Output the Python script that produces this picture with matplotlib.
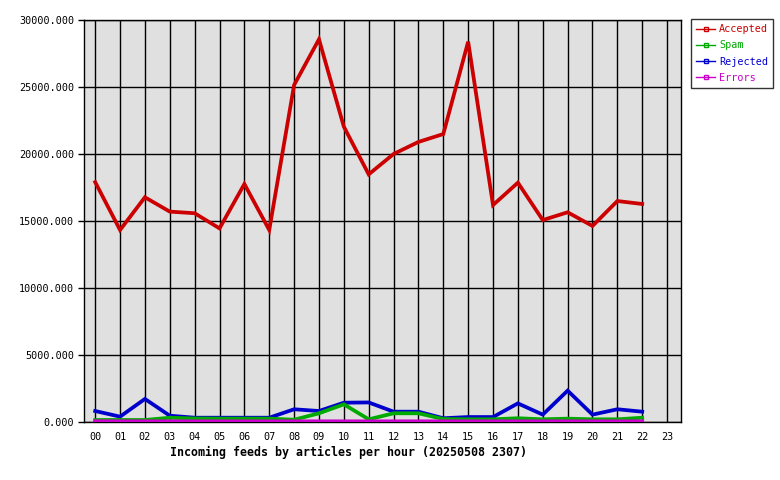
import matplotlib
matplotlib.use('Agg')
import matplotlib.pyplot as plt
from matplotlib.lines import Line2D

hours = ['%02d' % h for h in range(24)]

accepted = [17900, 14330, 16770, 15700, 15580, 14450, 17760, 14330, 25150, 28560,
            22040, 18480, 20000, 20900, 21490, 28380, 16190, 17860, 15070, 15650,
            14630, 16490, 16270]
spam = [150, 150, 150, 320, 260, 250, 250, 250, 170, 650,
        1320, 200, 650, 650, 220, 200, 200, 280, 200, 250,
        200, 200, 320]
rejected = [820, 400, 1720, 470, 320, 320, 320, 320, 950, 820,
            1440, 1460, 770, 770, 280, 370, 370, 1390, 550, 2340,
            550, 950, 770]
errors = [60, 50, 50, 50, 50, 50, 50, 50, 50, 50,
          50, 50, 50, 50, 50, 50, 50, 50, 50, 50,
          50, 50, 50]

series = [('Accepted', accepted, '#cc0000'),
          ('Spam', spam, '#00aa00'),
          ('Rejected', rejected, '#0000cc'),
          ('Errors', errors, '#cc00cc')]

yticks = [0, 5000, 10000, 15000, 20000, 25000, 30000]

plt.rcParams['font.family'] = 'DejaVu Sans Mono'

fig = plt.figure(figsize=(7.8, 4.8), dpi=100)
ax = fig.add_axes([84 / 780, 1 - 422 / 480, (681 - 84) / 780, (422 - 20) / 480])
ax.set_facecolor('#e0e0e0')

x = list(range(len(accepted)))
# small series first, Accepted last so it sits on top
for name, vals, color in [series[2], series[1], series[3], series[0]]:
    ax.plot(x, vals, color=color, linewidth=2.7, solid_joinstyle='miter', zorder=3)

ax.set_xlim(-0.45, 23.56)
ax.set_ylim(0, 30000)
ax.set_xticks(range(24))
ax.set_xticklabels(hours, fontsize=7.3)
ax.set_yticks(yticks)
ax.set_yticklabels(['%.3f' % v for v in yticks], fontsize=7.3)
ax.grid(True, color='black', linewidth=1)
ax.set_axisbelow(True)
ax.tick_params(axis='x', length=0, pad=7)
ax.tick_params(axis='y', length=4, width=1, pad=3)
for sp in ax.spines.values():
    sp.set_color('black')
    sp.set_linewidth(1)

fig.text(348.5 / 780, 1 - 452 / 480,
         'Incoming feeds by articles per hour (20250508 2307)',
         fontsize=8.4, fontweight='bold', ha='center', va='center')

handles = [Line2D([0], [0], color=c, linewidth=1, marker='s', markersize=3,
                  markerfacecolor='none', markeredgecolor=c)
           for _, _, c in series]
leg = fig.legend(handles, [s[0] for s in series], loc='upper left',
                 bbox_to_anchor=(691 / 780, 1 - 19 / 480), fontsize=7.3,
                 frameon=True, fancybox=False, edgecolor='black',
                 handlelength=1.9, borderpad=0.5, labelspacing=0.62,
                 handletextpad=0.35, borderaxespad=0)
leg.get_frame().set_linewidth(1)
for txt, (_, _, c) in zip(leg.get_texts(), series):
    txt.set_color(c)

fig.savefig('out.png', dpi=100)
